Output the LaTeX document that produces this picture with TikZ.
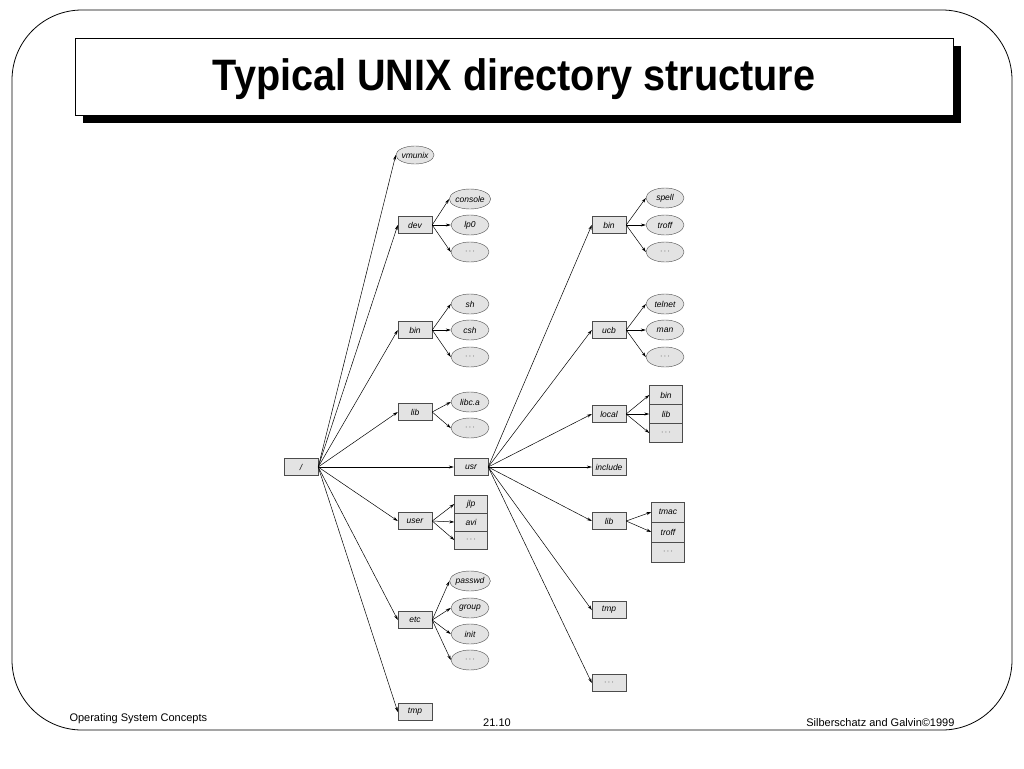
\documentclass[tikz,border=0pt]{standalone}
\usepackage{fontspec}
\setmainfont{Liberation Sans}
\usetikzlibrary{arrows.meta}
\tikzset{
  dir/.style={draw=black!70, fill=black!11, rectangle, minimum width=34pt, minimum height=17pt, inner sep=0pt, font=\fontsize{8.5}{9}\selectfont\itshape},
  fil/.style={draw=black!70, fill=black!11, ellipse, minimum width=38pt, minimum height=20pt, inner sep=0pt, font=\fontsize{8.5}{9}\selectfont\itshape},
  stk/.style={dir, minimum width=33pt, minimum height=19pt},
  edge/.style={-{Stealth[length=5pt,width=3pt]}, line width=0.5pt}
}
\usetikzlibrary{shapes.geometric}
\begin{document}
\begin{tikzpicture}[x=1pt,y=-1pt]
                \useasboundingbox (0,0) rectangle (1024,768);
                \draw[line width=0.8pt, rounded corners=70pt] (12,10) rectangle (1012,730);
                \fill (83,46) rectangle (961,123);
                \draw[fill=white, line width=0.8pt] (75,38) rectangle (953,115);
                \node[font=\fontsize{44}{48}\selectfont\bfseries, xscale=0.9] (title) at (514,79) {Typical UNIX directory structure};
                \node[anchor=west, font=\fontsize{11}{12}\selectfont] (course) at (66,719) {Operating System Concepts};
                \node[font=\fontsize{11}{12}\selectfont] (page) at (497,723) {21.10};
                \node[anchor=east, font=\fontsize{11}{12}\selectfont] (authors) at (958,723) {Silberschatz and Galvin\textcopyright1999};
                % root and first level
                \node[dir] (root) at (301,467) {/};
                \node[fil, minimum width=36pt, minimum height=18pt] (vmunix) at (415,155) {vmunix};
                \node[dir] (dev) at (415,225) {dev};
                \node[dir] (bin) at (415,330) {bin};
                \node[dir] (lib) at (415,412) {lib};
                \node[dir] (usr) at (471,467) {usr};
                \node[dir] (user) at (415,521) {user};
                \node[dir] (etc) at (415,620) {etc};
                \node[dir] (tmp) at (415,712) {tmp};
                \foreach \n in {vmunix,dev,bin,lib,usr,user,etc,tmp}
                    \draw[edge] (root.east) -- (\n.west);
                % dev, bin, lib, etc
                \node[fil] (console) at (470,199) {console};
                \node[fil] (lp) at (470,225) {lp0};
                \node[fil] (devdots) at (470,252) {$\cdots$};
                \node[fil] (sh) at (470,304) {sh};
                \node[fil] (csh) at (470,330) {csh};
                \node[fil] (bindots) at (470,357) {$\cdots$};
                \node[fil] (libc) at (470,402) {libc.a};
                \node[fil] (libdots) at (470,428) {$\cdots$};
                \node[fil] (passwd) at (470,581) {passwd};
                \node[fil] (group) at (470,608) {group};
                \node[fil] (init) at (470,634) {init};
                \node[fil] (etcdots) at (470,660) {$\cdots$};
                \foreach \n in {console,lp,devdots} \draw[edge] (dev.east) -- (\n.west);
                \foreach \n in {sh,csh,bindots} \draw[edge] (bin.east) -- (\n.west);
                \foreach \n in {libc,libdots} \draw[edge] (lib.east) -- (\n.west);
                \foreach \n in {passwd,group,init,etcdots} \draw[edge] (etc.east) -- (\n.west);
                % user
                \node[stk, minimum height=18pt] (jlp) at (471,504) {jlp};
                \node[stk, minimum height=18pt] (avi) at (471,522) {avi};
                \node[stk, minimum height=18pt] (userdots) at (471,540) {$\cdots$};
                \foreach \n in {jlp,avi,userdots} \draw[edge] (user.east) -- (\n.west);
                % usr
                \node[dir] (ubin) at (609,225) {bin};
                \node[dir] (ucb) at (609,330) {ucb};
                \node[dir] (local) at (609,414) {local};
                \node[dir] (include) at (609,467) {include};
                \node[dir] (ulib) at (609,521) {lib};
                \node[dir] (utmp) at (609,610) {tmp};
                \node[dir] (usrdots) at (609,683) {$\cdots$};
                \foreach \n in {ubin,ucb,local,include,ulib,utmp,usrdots}
                    \draw[edge] (usr.east) -- (\n.west);
                \node[fil] (spell) at (665,198) {spell};
                \node[fil] (troff) at (665,225) {troff};
                \node[fil] (ubindots) at (665,252) {$\cdots$};
                \node[fil] (telnet) at (665,304) {telnet};
                \node[fil] (man) at (665,330) {man};
                \node[fil] (ucbdots) at (665,357) {$\cdots$};
                \foreach \n in {spell,troff,ubindots} \draw[edge] (ubin.east) -- (\n.west);
                \foreach \n in {telnet,man,ucbdots} \draw[edge] (ucb.east) -- (\n.west);
                \node[stk] (lbin) at (666,395) {bin};
                \node[stk] (llib) at (666,414) {lib};
                \node[stk] (localdots) at (666,433) {$\cdots$};
                \foreach \n in {lbin,llib,localdots} \draw[edge] (local.east) -- (\n.west);
                \node[stk, minimum height=20pt] (tmac) at (668,512) {tmac};
                \node[stk, minimum height=20pt] (ltroff) at (668,532) {troff};
                \node[stk, minimum height=20pt] (ulibdots) at (668,552) {$\cdots$};
                \foreach \n in {tmac,ltroff} \draw[edge] (ulib.east) -- (\n.west);
            \end{tikzpicture}
\end{document}
